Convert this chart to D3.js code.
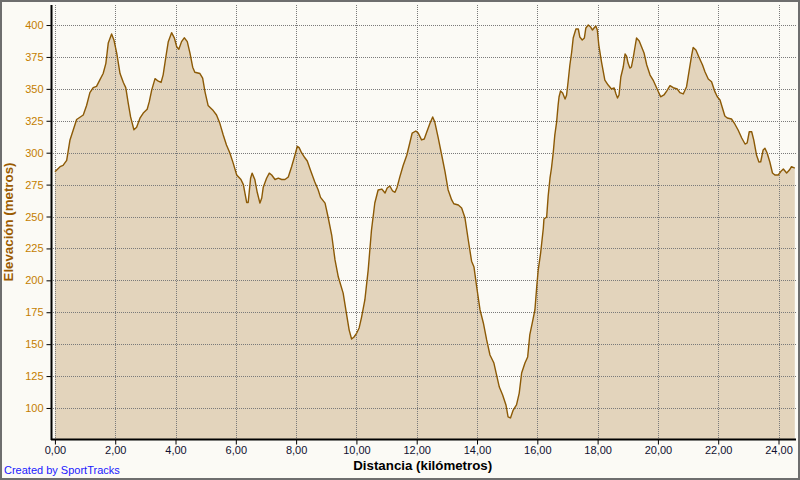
<!DOCTYPE html>
<html>
<head>
<meta charset="utf-8">
<script src="https://cdn.jsdelivr.net/npm/d3@7/dist/d3.min.js"></script>
<style>
  html, body { margin: 0; padding: 0; background: #fbfaf5; }
  svg { display: block; }
</style>
</head>
<body>
<script>
// ---- Data (distance km, elevation m) ----
const distanceKm = [0.00,0.17,0.27,0.39,0.50,0.61,0.72,0.94,1.05,1.16,1.27,1.38,1.49,1.60,1.69,1.77,1.88,1.96,2.05,2.16,2.27,2.35,2.43,2.51,2.62,2.71,2.82,2.93,3.06,3.13,3.21,3.32,3.43,3.52,3.59,3.68,3.76,3.87,3.96,4.04,4.11,4.20,4.29,4.39,4.48,4.57,4.64,4.81,4.90,4.98,5.08,5.25,5.36,5.47,5.58,5.69,5.80,5.91,6.03,6.17,6.25,6.36,6.41,6.49,6.54,6.63,6.71,6.80,6.86,6.91,7.02,7.11,7.19,7.30,7.41,7.52,7.63,7.74,7.85,7.96,8.04,8.10,8.18,8.29,8.37,8.48,8.62,8.73,8.81,8.96,9.06,9.18,9.29,9.40,9.56,9.67,9.76,9.84,9.92,10.01,10.09,10.17,10.28,10.39,10.50,10.61,10.72,10.84,10.95,11.02,11.11,11.20,11.28,11.35,11.44,11.55,11.67,11.77,11.85,11.97,12.05,12.16,12.25,12.33,12.44,12.53,12.60,12.71,12.83,12.94,13.04,13.16,13.23,13.38,13.49,13.60,13.71,13.82,13.90,13.99,14.10,14.21,14.32,14.43,14.56,14.65,14.74,14.85,14.96,15.03,15.11,15.20,15.31,15.40,15.48,15.59,15.68,15.75,15.84,15.92,15.98,16.03,16.11,16.20,16.22,16.31,16.36,16.42,16.47,16.53,16.58,16.64,16.69,16.72,16.77,16.84,16.92,16.97,17.02,17.08,17.14,17.19,17.28,17.36,17.41,17.49,17.56,17.61,17.69,17.77,17.83,17.88,17.94,17.99,18.04,18.13,18.24,18.35,18.46,18.55,18.61,18.66,18.71,18.77,18.85,18.91,18.96,19.01,19.07,19.12,19.18,19.24,19.29,19.38,19.46,19.54,19.63,19.74,19.84,19.96,20.09,20.20,20.29,20.40,20.51,20.64,20.73,20.84,20.95,21.04,21.12,21.17,21.26,21.37,21.48,21.56,21.67,21.78,21.89,21.97,22.06,22.14,22.22,22.30,22.44,22.55,22.66,22.78,22.89,22.96,23.03,23.11,23.18,23.27,23.35,23.41,23.49,23.55,23.62,23.71,23.80,23.88,23.99,24.10,24.16,24.27,24.36,24.43,24.54];
const elevationM = [285,289,290,294,310,318,326,329.5,337,347,351,352,357,362,370,386,393,388,378,362,355,351,339,328,318,320,327,331,334,340,349,358,356,355,361,375,387,394,390,383,381,387,390,387,378,367,363,362,358.5,347.5,337,333,329.5,323,314,306,300,292,282.5,279,275,261,261,280,284,279,269,260.5,264.5,273,280,284,282.5,279,280,279,279,281,289,298,305,304,300,296,293.5,286,277,271,265,260.5,249.6,235.5,216,202.6,190,174,161,154,155.6,158.7,162.7,171,184.6,208,239.4,260.6,270.8,271.5,268.4,272.3,273.9,270,269,273,281,290,298,307.6,315.4,317,315.4,310,310.7,316,323,328,324,312,298,285,271,263,260,259,256.7,249,231.6,215,210.4,194.8,176.8,166.6,153.3,141.5,135.2,125.8,116.4,110.2,102.4,93,92.2,98.4,102.4,111.7,127.4,135.2,140,157.2,167.4,176.8,194.8,208.1,221.4,241,248,249.6,266,280,288,300.5,313.8,324,337.3,343.6,348.3,346.7,342,345,355.4,368.7,378.9,389.8,396.9,396.9,390.6,388.3,389.8,397.7,400,398.4,396.1,397.7,399.2,396.1,384.3,371,356.9,353,349.9,350.7,346,342.8,345.2,359.3,367.1,377.3,375.7,370.2,366.3,367.1,374.2,382.8,389.8,387.5,382.8,378.1,368.7,360.8,356.9,350.7,343.8,345.2,348.3,352.5,350.9,349.9,347,346,351.7,364.8,376.5,382.5,380.4,374.4,368.7,363.4,357.7,355.6,347.8,343.8,341.3,335,328.7,327.2,326.4,322.5,317.8,311.5,306.8,307.6,316.4,316.4,309.9,298.2,292.7,292.9,302.1,303.4,300,292.9,284.1,282.5,282.5,285.9,287.2,284.1,286.4,289,287.9];

const xTicks = [0,2,4,6,8,10,12,14,16,18,20,22,24];
const yTicks = [100,125,150,175,200,225,250,275,300,325,350,375,400];
const xDomain = [-0.13, 24.58];
const yDomain = [75.7, 415.7];

const xTitle = "Distancia (kilómetros)";
const yTitle = "Elevación (metros)";
const creditText = "Created by SportTracks";

// ---- Layout ----
const W = 800, H = 480;
const plot = { left: 51, right: 796, top: 5, bottom: 439 };
const FONT = "'Liberation Sans', Arial, sans-serif";

const svg = d3.select("body").append("svg").attr("width", W).attr("height", H);

svg.append("rect").attr("x", 0).attr("y", 0).attr("width", W).attr("height", H)
  .attr("fill", "#fbfaf5");

const x = d3.scaleLinear().domain(xDomain).range([plot.left, plot.right]);
const y = d3.scaleLinear().domain(yDomain).range([plot.bottom, plot.top]);

const data = distanceKm.map((d, i) => ({ d, e: elevationM[i] }));

// Area
const area = d3.area().x(p => x(p.d)).y0(plot.bottom).y1(p => y(p.e));
svg.append("path").datum(data).attr("d", area).attr("fill", "#e3d4bc");

// Grid
const grid = svg.append("g").attr("stroke", "#7a7a7a").attr("stroke-width", 1)
  .attr("stroke-dasharray", "1,1").attr("shape-rendering", "crispEdges");
grid.selectAll("line.h").data(yTicks).join("line").attr("class", "h")
  .attr("x1", plot.left).attr("x2", plot.right)
  .attr("y1", d => Math.round(y(d)) + 0.5).attr("y2", d => Math.round(y(d)) + 0.5);
grid.selectAll("line.v").data(xTicks).join("line").attr("class", "v")
  .attr("y1", plot.top).attr("y2", plot.bottom)
  .attr("x1", d => Math.round(x(d)) + 0.5).attr("x2", d => Math.round(x(d)) + 0.5);

// Line
const line = d3.line().x(p => x(p.d)).y(p => y(p.e));
svg.append("path").datum(data).attr("d", line).attr("fill", "none")
  .attr("stroke", "#8c5a06").attr("stroke-width", 1.4).attr("stroke-linejoin", "round");

// Axes
const yAxis = d3.axisLeft(y).tickValues(yTicks).tickSize(5).tickPadding(3)
  .tickFormat(d3.format("d"));
const gy = svg.append("g").attr("transform", `translate(${plot.left + 0.5},0)`).call(yAxis);
gy.select(".domain").remove();
gy.selectAll(".tick line").attr("stroke", "#000");
gy.selectAll(".tick text").attr("fill", "#c47d00")
  .style("font-family", FONT).style("font-size", "11px");

const fmtX = d => d3.format(".2f")(d).replace(".", ",");
const xAxis = d3.axisBottom(x).tickValues(xTicks).tickSize(5).tickPadding(2).tickFormat(fmtX);
const gx = svg.append("g").attr("transform", `translate(0,${plot.bottom + 0.5})`).call(xAxis);
gx.select(".domain").remove();
gx.selectAll(".tick line").attr("stroke", "#000");
gx.selectAll(".tick text").attr("fill", "#101030")
  .style("font-family", FONT).style("font-size", "11px");

// Axis lines
svg.append("line").attr("x1", plot.left + 0.5).attr("x2", plot.left + 0.5)
  .attr("y1", plot.top).attr("y2", plot.bottom + 1).attr("stroke", "#000").attr("stroke-width", 2);
svg.append("line").attr("x1", plot.left).attr("x2", plot.right)
  .attr("y1", plot.bottom + 0.5).attr("y2", plot.bottom + 0.5).attr("stroke", "#000").attr("stroke-width", 2);

// Titles
svg.append("text").attr("x", (x(0) + x(24)) / 2 + 6).attr("y", 470)
  .attr("text-anchor", "middle").attr("fill", "#000")
  .style("font-family", FONT).style("font-size", "13.3px")
  .style("font-weight", "bold").text(xTitle);

svg.append("text").attr("transform", `translate(13,222) rotate(-90)`)
  .attr("text-anchor", "middle").attr("fill", "#9a5a00")
  .style("font-family", FONT).style("font-size", "13.3px")
  .style("font-weight", "bold").text(yTitle);

svg.append("text").attr("x", 4).attr("y", 474).attr("fill", "#2020ff")
  .style("font-family", FONT).style("font-size", "11px")
  .text(creditText);

// Outer frame
svg.append("rect").attr("x", 1).attr("y", 1).attr("width", W - 2).attr("height", H - 2)
  .attr("fill", "none").attr("stroke", "#6e6e6e").attr("stroke-width", 2);
</script>
</body>
</html>
